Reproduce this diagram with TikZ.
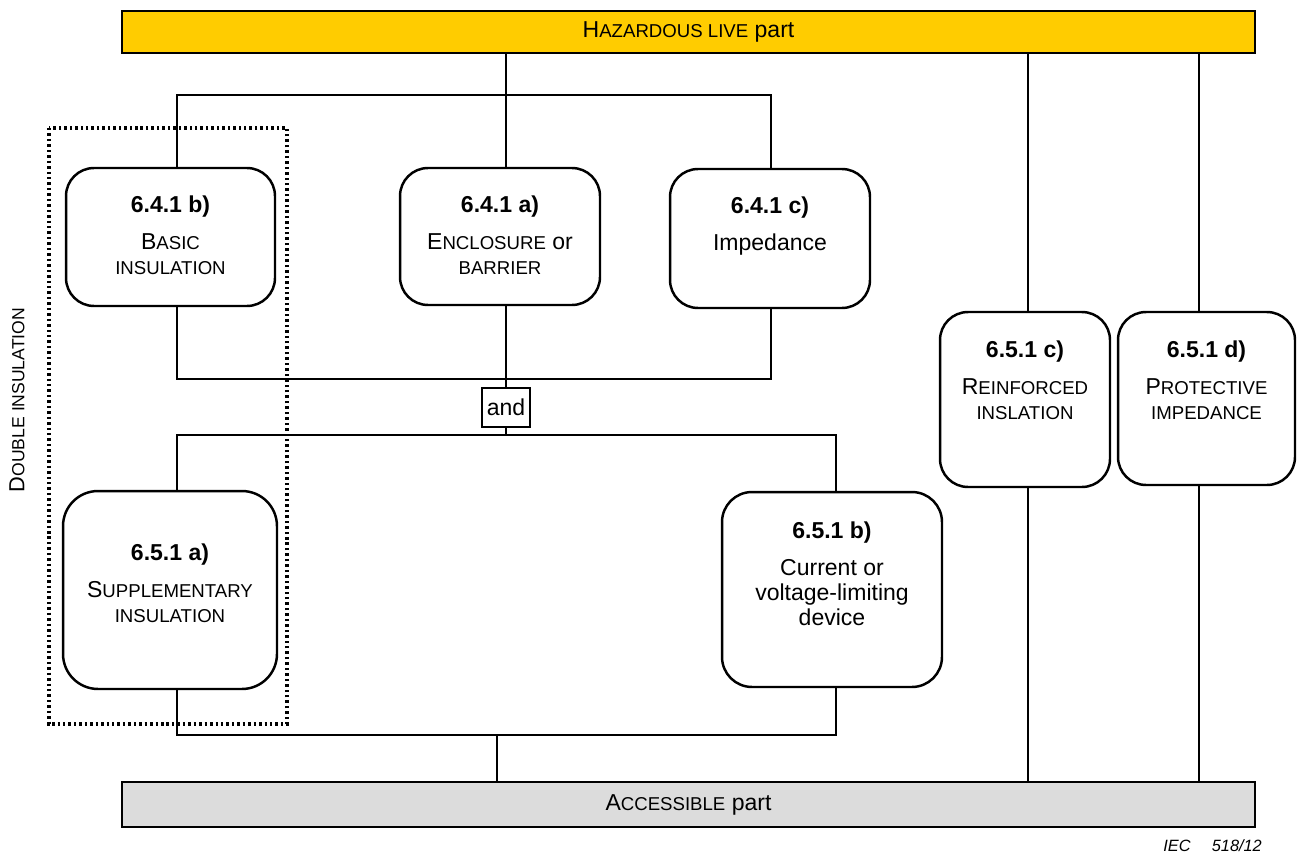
\documentclass[tikz,border=0pt]{standalone}
\usepackage{fontspec}
\setmainfont{Liberation Sans}

\definecolor{hazyellow}{HTML}{FFCC00}
\definecolor{accgray}{HTML}{DCDCDC}

\newcommand\smc[1]{{\fontsize{10.6}{14.2}\selectfont #1}}

\tikzset{
  box/.style={draw, line width=1.4pt, rounded corners=0.56cm, fill=white, inner sep=0pt},
  bar/.style={draw, line width=1.3pt, minimum width=22.66cm, inner sep=0pt},
  boxtext/.style={anchor=north, align=center, inner sep=0pt},
  wire/.style={line width=0.7pt},
  feed/.style={line width=1.1pt},
}

\begin{document}
\begin{tikzpicture}[x=0.02cm, y=-0.02cm, font=\fontsize{13.1}{14.2}\selectfont]
    \useasboundingbox (0,0) rectangle (1298,855);
    % the two parts
    \node[bar, fill=hazyellow, minimum height=0.84cm] (hazard) at (688.5,32) {H\smc{AZARDOUS LIVE} part};
    \node[bar, fill=accgray, minimum height=0.9cm] (access) at (688.5,804.5) {A\smc{CCESSIBLE} part};

    % protective measures
    \node[box, minimum width=4.18cm, minimum height=2.76cm] (basic) at (170.5,237) {};
    \node[box, minimum width=4cm, minimum height=2.74cm] (encl) at (500,236.5) {};
    \node[box, minimum width=4cm, minimum height=2.78cm] (imped) at (770,238.5) {};
    \node[box, minimum width=3.4cm, minimum height=3.5cm] (reinf) at (1025,399.5) {};
    \node[box, minimum width=3.54cm, minimum height=3.46cm] (protect) at (1206.5,398.5) {};
    \node[box, rounded corners=0.7cm, minimum width=4.28cm, minimum height=3.96cm] (supp) at (170,590) {};
    \node[box, rounded corners=0.6cm, minimum width=4.4cm, minimum height=3.9cm] (current) at (832,589.5) {};
    \node[draw, line width=0.8pt, inner sep=0pt, minimum width=0.96cm, minimum height=0.78cm] (and) at (506,407.5) {and};

    \node[boxtext] (basic-t) at ([yshift=-0.58cm]basic.north) {\textbf{6.4.1 b)}\\[6.8pt] B\smc{ASIC}\\ \smc{INSULATION}};
    \node[boxtext] (encl-t) at ([yshift=-0.58cm]encl.north) {\textbf{6.4.1 a)}\\[6.8pt] E\smc{NCLOSURE} or\\ \smc{BARRIER}};
    \node[boxtext] (imped-t) at ([yshift=-0.58cm]imped.north) {\textbf{6.4.1 c)}\\[6.8pt] Impedance};
    \node[boxtext] (reinf-t) at ([yshift=-0.6cm]reinf.north) {\textbf{6.5.1 c)}\\[6.8pt] R\smc{EINFORCED}\\ \smc{INSLATION}};
    \node[boxtext] (protect-t) at ([yshift=-0.6cm]protect.north) {\textbf{6.5.1 d)}\\[6.8pt] P\smc{ROTECTIVE}\\ \smc{IMPEDANCE}};
    \node[boxtext] (supp-t) at ([yshift=-1.08cm]supp.north) {\textbf{6.5.1 a)}\\[6.8pt] S\smc{UPPLEMENTARY}\\ \smc{INSULATION}};
    \node[boxtext] (current-t) at ([yshift=-0.62cm]current.north) {\textbf{6.5.1 b)}\\[6.8pt] Current or\\ voltage-limiting\\ device};

    % bus lines and wire positions
    \coordinate (b1) at (0,95);
    \coordinate (b2) at (0,379);
    \coordinate (b3) at (0,435);
    \coordinate (b4) at (0,735);
    \coordinate (xa) at (506,0);
    \coordinate (xb) at (177,0);
    \coordinate (xc) at (771,0);
    \coordinate (xd) at (836,0);
    \coordinate (xe) at (1028,0);
    \coordinate (xf) at (1199,0);
    \coordinate (xg) at (497,0);

    \draw[wire] (hazard.south -| xa) -- (encl.north -| xa);
    \draw[wire] (basic.north -| xb) -- (b1 -| xb) -- (b1 -| xc) -- (imped.north -| xc);
    \draw[wire] (basic.south -| xb) -- (b2 -| xb) -- (b2 -| xc) -- (imped.south -| xc);
    \draw[wire] (encl.south -| xa) -- (and.north);
    \draw[wire] (and.south) -- (b3 -| xa);
    \draw[wire] (supp.north -| xb) -- (b3 -| xb) -- (b3 -| xd) -- (current.north -| xd);
    \draw[wire] (supp.south -| xb) -- (b4 -| xb) -- (b4 -| xd) -- (current.south -| xd);
    \draw[wire] (b4 -| xg) -- (access.north -| xg);
    \draw[feed] (hazard.south -| xe) -- (reinf.north -| xe);
    \draw[feed] (reinf.south -| xe) -- (access.north -| xe);
    \draw[feed] (hazard.south -| xf) -- (protect.north -| xf);
    \draw[feed] (protect.south -| xf) -- (access.north -| xf);

    % double insulation group
    \draw[line width=2pt, dash pattern=on 1.4pt off 1.7pt] (49,128) rectangle (287,724);
    \node[rotate=90, font=\fontsize{12.4}{14}\selectfont] (dbl) at (17,400) {D{\fontsize{10}{14}\selectfont OUBLE INSULATION}};

    \node[anchor=east, font=\fontsize{9.3}{10}\selectfont\itshape] (iec) at (1268,846) {IEC\hspace{1.3em}518/12};
\end{tikzpicture}
\end{document}
